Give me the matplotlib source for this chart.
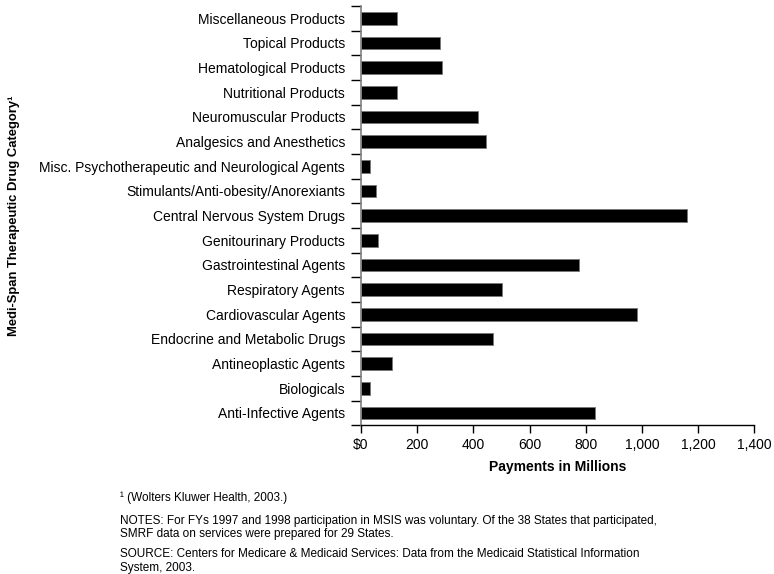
import matplotlib
matplotlib.use("Agg")
import matplotlib.pyplot as plt
import numpy as np

categories = [
    "Miscellaneous Products",
    "Topical Products",
    "Hematological Products",
    "Nutritional Products",
    "Neuromuscular Products",
    "Analgesics and Anesthetics",
    "Misc. Psychotherapeutic and Neurological Agents",
    "Stimulants/Anti-obesity/Anorexiants",
    "Central Nervous System Drugs",
    "Genitourinary Products",
    "Gastrointestinal Agents",
    "Respiratory Agents",
    "Cardiovascular Agents",
    "Endocrine and Metabolic Drugs",
    "Antineoplastic Agents",
    "Biologicals",
    "Anti-Infective Agents",
]
payments = [127, 280, 287, 129, 416, 444, 33, 55, 1160, 60, 777, 503, 981, 469, 110, 33, 833]
xticks = [0, 200, 400, 600, 800, 1000, 1200, 1400]
xticklabels = ["$0", "200", "400", "600", "800", "1,000", "1,200", "1,400"]

plt.rcParams['font.family'] = ['Liberation Sans', 'DejaVu Sans']

fig = plt.figure(figsize=(7.74, 5.74), dpi=100)
ax = fig.add_axes([361/774, 1-425.3/574, (754.3-361)/774, (425.3-6)/574])

n = len(categories)
ypos = np.arange(n)[::-1]
ax.barh(ypos, payments, height=0.52, color="black", edgecolor="#777777", linewidth=0.6)

ax.set_xlim(0, 1400)
ax.set_ylim(-0.5, n - 0.5)
ax.set_xticks(xticks)
ax.set_xticklabels(xticklabels, fontsize=10)
ax.set_yticks(np.arange(-0.5, n, 1.0))
ax.set_yticklabels([])
ax.set_yticks(ypos, minor=True)
ax.set_yticklabels(categories, minor=True, fontsize=10)
ax.tick_params(axis='y', which='major', length=7.5, width=1.0, direction='out')
ax.tick_params(axis='y', which='minor', length=0, pad=11.5)
ax.tick_params(axis='x', length=6, width=1.0, pad=3)

for s in ['top', 'right']:
    ax.spines[s].set_visible(False)
ax.spines['left'].set_color('#808080')
ax.spines['left'].set_linewidth(1.2)
ax.spines['bottom'].set_color('black')
ax.spines['bottom'].set_linewidth(1.0)

ax.set_xlabel("Payments in Millions", fontsize=10, fontweight='bold', labelpad=6)
ax.set_ylabel("Medi-Span Therapeutic Drug Category\u00b9", fontsize=9.4, fontweight='bold')
ax.yaxis.set_label_coords(-0.868, 0.5)

fs = 8.5
fig.text(120/774, 1-498/574, "\u00b9 (Wolters Kluwer Health, 2003.)", fontsize=fs, va='center', ha='left')
fig.text(120/774, 1-521/574, "NOTES: For FYs 1997 and 1998 participation in MSIS was voluntary. Of the 38 States that participated,", fontsize=fs, va='center', ha='left')
fig.text(120/774, 1-534.5/574, "SMRF data on services were prepared for 29 States.", fontsize=fs, va='center', ha='left')
fig.text(120/774, 1-554/574, "SOURCE: Centers for Medicare & Medicaid Services: Data from the Medicaid Statistical Information", fontsize=fs, va='center', ha='left')
fig.text(120/774, 1-567.5/574, "System, 2003.", fontsize=fs, va='center', ha='left')

fig.savefig("out.png", dpi=100)
